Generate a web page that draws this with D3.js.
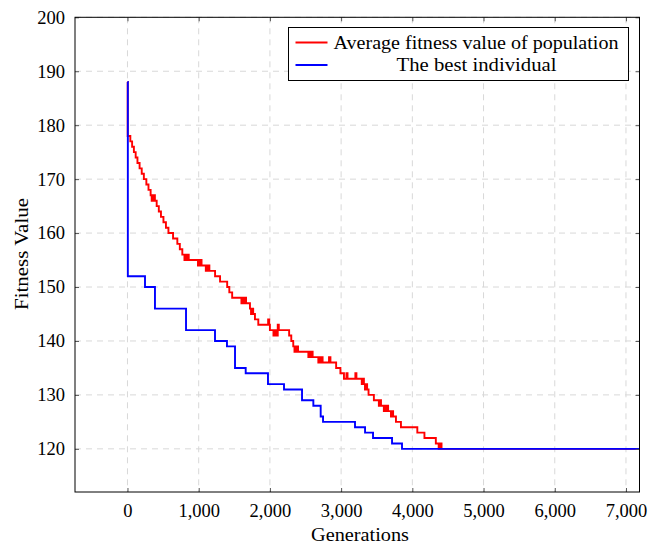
<!DOCTYPE html>
<html>
<head>
<meta charset="utf-8">
<script src="https://cdnjs.cloudflare.com/ajax/libs/d3/7.8.5/d3.min.js"></script>
<style>
  body { margin: 0; background: #fff; }
  svg text { font-family: "Liberation Serif", "DejaVu Serif", serif; fill: #000; }
</style>
</head>
<body>
<svg id="chart" width="660" height="544"></svg>
<script>
// data: generation -> fitness (step after)
var bestGen = [0, 5, 246, 386, 822, 1229, 1397, 1510, 1660, 1973, 2198, 2451, 2610, 2713, 2746,
  3195, 3336, 3448, 3715, 3855, 7190];
var bestVal = [188, 152, 150, 146, 142, 140, 139, 135, 134, 132, 131, 129, 128, 126, 125,
  124, 123, 122, 121, 120, 120];

var avgGen = [0, 3, 40, 65, 90, 115, 140, 170, 200, 230, 265, 295, 325, 340, 350, 360, 372, 385,
  410, 440, 470, 505, 540, 575, 640, 700, 735, 770, 800, 815, 830, 845, 860,
  990, 1000, 1010, 1025, 1040, 1100, 1110, 1120, 1135, 1150, 1230, 1300, 1400, 1430, 1470,
  1600, 1620, 1635, 1650, 1665, 1720, 1735, 1750, 1765, 1790, 1837, 1975, 1990, 2000,
  2050, 2060, 2070, 2080, 2095, 2110, 2125, 2270, 2300, 2328, 2345, 2355, 2365, 2380, 2395,
  2540, 2555, 2570, 2585, 2600, 2680, 2695, 2710, 2725, 2740, 2830, 2850, 2930, 2990,
  3040, 3075, 3090, 3200, 3215, 3290, 3310, 3320, 3335, 3350, 3365, 3385, 3460,
  3530, 3545, 3560, 3600, 3615, 3630, 3645, 3660, 3700, 3715, 3730, 3770, 3840,
  4070, 4170, 4330, 4370, 4380, 4390, 4400, 4410, 7190];
var avgVal = [188, 178, 177, 176, 175, 174, 173, 172, 171, 170, 169, 168, 167, 166, 167, 166, 167, 166,
  165, 164, 163, 162, 161, 160, 159, 158, 157, 156, 155, 156, 155, 156, 155,
  154, 155, 154, 155, 154, 153, 154, 153, 154, 153, 152, 151, 150, 149, 148,
  147, 148, 147, 148, 147, 146, 145, 146, 145, 144, 143, 144, 143, 142,
  141, 142, 141, 142, 141, 143, 142, 141, 140, 139, 138, 139, 138, 139, 138,
  137, 138, 137, 138, 137, 136, 137, 136, 137, 136, 137, 136, 135, 134,
  133, 134, 133, 134, 133, 132, 133, 132, 131, 132, 131, 130, 129,
  128, 129, 128, 127, 128, 127, 128, 127, 126, 127, 126, 125, 124,
  123, 122, 121, 120, 121, 120, 121, 120, 120];

var xTicks = [0, 1000, 2000, 3000, 4000, 5000, 6000, 7000];
var yTicks = [120, 130, 140, 150, 160, 170, 180, 190, 200];
var seriesNames = ["Average fitness value of population", "The best individual"];
var seriesColors = ["#ff0000", "#0000ff"];

var svg = d3.select("#chart"),
    margin = {top: 17.3, right: 20.5, bottom: 52, left: 75},
    width = +svg.attr("width") - margin.left - margin.right,
    height = +svg.attr("height") - margin.top - margin.bottom;

var g = svg.append("g")
  .attr("transform", "translate(" + margin.left + "," + margin.top + ")");

var x = d3.scaleLinear().domain([-737, 7190]).range([0, width]);
var y = d3.scaleLinear().domain([112, 200]).range([height, 0]);

// grid
g.selectAll(".gx").data(xTicks).enter().append("line")
  .attr("x1", function(d) { return x(d); }).attr("x2", function(d) { return x(d); })
  .attr("y1", 0).attr("y2", height)
  .attr("stroke", "#d8d8d8").attr("stroke-dasharray", "6,5");
g.selectAll(".gy").data(yTicks).enter().append("line")
  .attr("y1", function(d) { return y(d); }).attr("y2", function(d) { return y(d); })
  .attr("x1", 0).attr("x2", width)
  .attr("stroke", "#d8d8d8").attr("stroke-dasharray", "6,5");

function toPoints(gens, vals) {
  return gens.map(function(d, i) { return [d, vals[i]]; });
}

var line = d3.line()
  .x(function(d) { return x(d[0]); })
  .y(function(d) { return y(d[1]); })
  .curve(d3.curveStepAfter);

var series = [toPoints(avgGen, avgVal), toPoints(bestGen, bestVal)];

g.selectAll(".series").data(series).enter().append("path")
  .attr("d", line)
  .attr("fill", "none")
  .attr("stroke", function(d, i) { return seriesColors[i]; })
  .attr("stroke-width", 1.9)
  .attr("stroke-linejoin", "miter");

// axes
var xAxis = d3.axisBottom(x).tickValues(xTicks).tickSize(-4).tickPadding(12)
  .tickFormat(d3.format(",d"));
var yAxis = d3.axisLeft(y).tickValues(yTicks).tickSize(-4).tickPadding(10);

var gx = g.append("g").attr("transform", "translate(0," + height + ")").call(xAxis);
var gy = g.append("g").call(yAxis);
g.append("g").call(d3.axisTop(x).tickValues(xTicks).tickSize(-4).tickFormat(""));
g.append("g").attr("transform", "translate(" + width + ",0)")
  .call(d3.axisRight(y).tickValues(yTicks).tickSize(-4).tickFormat(""));

g.selectAll(".domain").remove();
g.selectAll(".tick line").attr("stroke", "#555");
gx.selectAll("text").style("font-size", "18.5px").attr("dy", "0.71em");
gy.selectAll("text").style("font-size", "18.5px");

g.append("rect")
  .attr("width", width).attr("height", height)
  .attr("fill", "none").attr("stroke", "#000").attr("stroke-width", 1);

// labels
svg.append("text")
  .attr("x", 360).attr("y", 541)
  .attr("text-anchor", "middle").style("font-size", "18.5px")
  .attr("textLength", 98).attr("lengthAdjust", "spacingAndGlyphs")
  .text("Generations");
svg.append("text")
  .attr("transform", "translate(28,254) rotate(-90)")
  .attr("text-anchor", "middle").style("font-size", "18.5px")
  .attr("textLength", 112).attr("lengthAdjust", "spacingAndGlyphs")
  .text("Fitness Value");

// legend
var legend = svg.append("g").attr("transform", "translate(288.5,27.5)");
legend.append("rect").attr("width", 340).attr("height", 53)
  .attr("fill", "#fff").attr("stroke", "#000").attr("stroke-width", 1);

var item = legend.selectAll(".legend").data(seriesNames).enter().append("g")
  .attr("transform", function(d, i) { return "translate(0," + (15 + i * 22.5) + ")"; });
item.append("line")
  .attr("x1", 7).attr("x2", 39)
  .attr("stroke", function(d, i) { return seriesColors[i]; })
  .attr("stroke-width", 1.9);
item.append("text")
  .attr("x", function(d, i) { return i == 0 ? 45 : 188; })
  .attr("y", 6)
  .attr("text-anchor", function(d, i) { return i == 0 ? "start" : "middle"; })
  .style("font-size", "18.5px")
  .attr("textLength", function(d, i) { return i == 0 ? 285 : 160; })
  .attr("lengthAdjust", "spacingAndGlyphs")
  .text(function(d) { return d; });
</script>
</body>
</html>
